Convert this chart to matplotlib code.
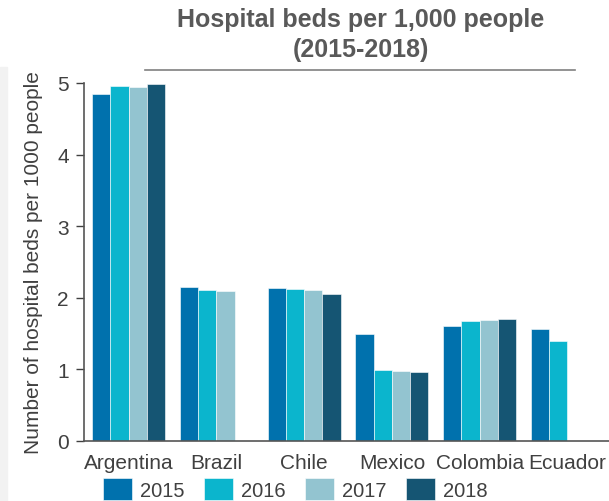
import numpy as np
import matplotlib
matplotlib.use("Agg")
import matplotlib.pyplot as plt
from matplotlib.patches import Rectangle
from matplotlib.lines import Line2D

plt.rcParams['font.family'] = ['Liberation Sans', 'DejaVu Sans']

countries = ["Argentina", "Brazil", "Chile", "Mexico", "Colombia", "Ecuador"]
years = ["2015", "2016", "2017", "2018"]
beds_2015 = [4.85, 2.15, 2.14, 1.50, 1.61, 1.56]
beds_2016 = [4.96, 2.11, 2.12, 0.99, 1.68, 1.39]
beds_2017 = [4.94, 2.09, 2.11, 0.98, 1.69, np.nan]
beds_2018 = [4.99, np.nan, 2.06, 0.97, 1.71, np.nan]
series = [beds_2015, beds_2016, beds_2017, beds_2018]
colors = ["#0071ad", "#0bb5cd", "#93c4d0", "#155573"]

text_col = "#404040"

fig = plt.figure(figsize=(6.09, 5.02), dpi=100)

# light grey strip on the left edge
fig.patches.append(Rectangle((0, 0), 7 / 609, (502 - 68) / 502,
                             transform=fig.transFigure, color="#f2f2f2", zorder=0))

ax = fig.add_axes([84 / 609, 60 / 502, 536 / 609, 358 / 502])

x = np.arange(len(countries))
w = 0.208
for i, (vals, c) in enumerate(zip(series, colors)):
    ax.bar(x + (i - 1.5) * w, vals, width=w, color=c, edgecolor="white",
           linewidth=0.4, label=years[i], zorder=2)

ax.set_xlim(-0.51, 5.6)
ax.set_ylim(0, 5)
ax.set_yticks(range(6))
ax.set_xticks(x)
ax.set_xticklabels(countries)
ax.tick_params(axis="x", length=0, labelsize=15, colors=text_col, pad=9)
ax.tick_params(axis="y", length=6, direction="out", labelsize=15,
               colors=text_col, width=1, pad=5)
for s in ["top", "right"]:
    ax.spines[s].set_visible(False)
for s in ["left", "bottom"]:
    ax.spines[s].set_color("#555555")
    ax.spines[s].set_linewidth(1.2)

ax.set_ylabel("Number of hospital beds per 1000 people", fontsize=15,
              color=text_col, labelpad=10)

fig.text(361 / 609, 1 - 20 / 502, "Hospital beds per 1,000 people",
         ha="center", va="center", fontsize=18, fontweight="bold", color="#595959")
fig.text(361 / 609, 1 - 50 / 502, "(2015-2018)",
         ha="center", va="center", fontsize=18, fontweight="bold", color="#595959")
fig.lines.append(Line2D([145 / 609, 575 / 609], [1 - 71 / 502, 1 - 71 / 502],
                        transform=fig.transFigure, color="#808080", linewidth=1.2))

leg = fig.legend(loc="upper left", bbox_to_anchor=(103 / 609, 1 - 479 / 502),
                 ncol=4, frameon=False, fontsize=14.5, handlelength=1.45,
                 handleheight=1.3, handletextpad=0.4, columnspacing=0.95,
                 borderaxespad=0, borderpad=0)
for t in leg.get_texts():
    t.set_color(text_col)

fig.savefig("out.png", dpi=100)
